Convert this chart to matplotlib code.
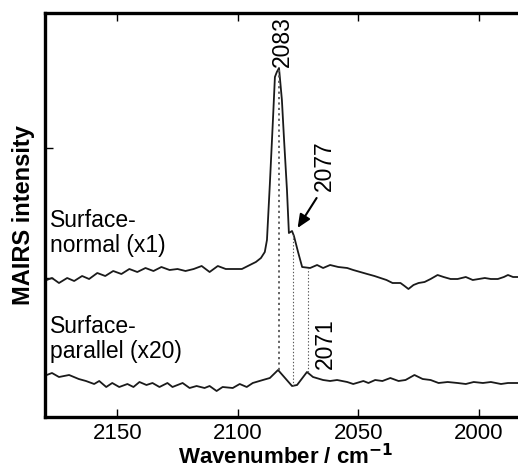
import matplotlib
matplotlib.use("Agg")
import matplotlib.pyplot as plt

plt.rcParams['font.family'] = ['Liberation Sans', 'DejaVu Sans']

# Surface-normal (x1) spectrum: wavenumber (cm-1), intensity (arb.)
normal_wn = [2180.4, 2177.1, 2174.2, 2170.8, 2167.9, 2164.6, 2161.7, 2158.3, 2155.0,
             2151.7, 2148.3, 2145.0, 2141.7, 2138.3, 2135.0, 2131.7, 2128.3, 2125.0,
             2121.7, 2118.3, 2115.0, 2111.7, 2108.3, 2105.0, 2101.7, 2098.3, 2095.0,
             2092.5, 2090.4, 2088.8, 2087.9, 2086.7, 2085.4, 2084.6, 2083.8, 2082.9,
             2081.7, 2080.8, 2079.6, 2078.8, 2077.5, 2076.7, 2075.0, 2073.3, 2070.0,
             2067.1, 2064.6, 2061.7, 2058.3, 2054.6, 2052.1, 2049.2, 2046.3, 2043.3,
             2040.8, 2038.3, 2035.8, 2032.5, 2030.8, 2029.2, 2027.1, 2025.0, 2022.5,
             2020.0, 2017.1, 2014.6, 2011.7, 2008.8, 2005.4, 2002.5, 2000.0, 1997.5,
             1995.0, 1992.1, 1989.6, 1987.9, 1985.8, 1983.3]
normal_int = [136, 139, 134, 139, 136, 141, 138, 144, 141,
              146, 143, 148, 145, 149, 146, 150, 147, 148,
              146, 148, 151, 145, 151, 148, 148, 148, 152,
              155, 159, 165, 177, 233, 298, 340, 345, 349,
              317, 277, 227, 184, 186, 181, 165, 150, 149,
              152, 149, 152, 150, 149, 147, 145, 143, 141,
              139, 137, 134, 134, 131, 128, 132, 134, 135,
              138, 142, 140, 138, 138, 140, 137, 138, 139,
              138, 138, 140, 142, 140, 140]

# Surface-parallel (x20) spectrum
parallel_wn = [2180.4, 2177.1, 2174.2, 2170.0, 2166.0, 2163.0, 2159.6, 2157.5, 2154.6,
               2152.1, 2149.2, 2145.8, 2143.3, 2140.8, 2137.9, 2135.4, 2132.5, 2129.2,
               2127.1, 2122.9, 2120.0, 2117.1, 2113.8, 2111.7, 2108.8, 2106.3, 2102.1,
               2099.2, 2096.3, 2093.8, 2089.6, 2086.7, 2083.3, 2080.4, 2077.5, 2075.4,
               2071.3, 2068.8, 2064.6, 2061.7, 2058.8, 2054.6, 2052.1, 2047.9, 2045.8,
               2043.0, 2040.0, 2036.7, 2033.3, 2030.4, 2026.7, 2023.3, 2020.0, 2016.7,
               2012.9, 2008.8, 2005.4, 2002.1, 1998.3, 1995.0, 1990.8, 1987.9, 1983.8]
parallel_int = [41, 44, 40, 42, 38, 36, 33, 36, 30,
                34, 30, 33, 30, 35, 32, 34, 30, 34,
                30, 34, 29, 31, 29, 31, 26, 30, 29,
                33, 30, 34, 37, 39, 47, 39, 31, 32,
                45, 40, 37, 36, 37, 35, 33, 36, 34,
                37, 36, 39, 36, 37, 42, 38, 37, 34,
                35, 34, 33, 35, 34, 35, 33, 34, 34]

# Marked peak positions and dotted guide extents (low, high)
peak_pos = [2083, 2077, 2071]
guide_low = [47, 31, 45]
guide_high = [349, 184, 149]
guide_lw = [1.3, 0.8, 0.8]

xticks = [2150, 2100, 2050, 2000]
yticks = [139, 269]

fig = plt.figure(figsize=(5.18, 4.71), dpi=100)
ax = fig.add_axes([45/518, 54/471, 482/518, 404/471])

line_kw = dict(color='#1a1a1a', lw=1.3)
ax.plot(normal_wn, normal_int, **line_kw)
ax.plot(parallel_wn, parallel_int, **line_kw)

for p, lo, hi, lw in zip(peak_pos, guide_low, guide_high, guide_lw):
    ax.vlines(p, lo, hi, colors='#555555', linestyles=(0, (1.2, 1.8)), lw=lw)

fs = 16.5
ax.text(2081.7, 350, '2083', rotation=90, ha='center', va='bottom', fontsize=fs)
ax.text(2064.2, 226, '2077', rotation=90, ha='center', va='bottom', fontsize=fs)
ax.text(2063.8, 48, '2071', rotation=90, ha='center', va='bottom', fontsize=fs)
ax.annotate('', xy=(2075.2, 189), xytext=(2067.3, 219),
            arrowprops=dict(arrowstyle='-|>,head_length=0.8,head_width=0.35',
                            color='black', lw=1.5, shrinkA=0, shrinkB=0))

ax.text(2178.0, 208, 'Surface-\nnormal (x1)', ha='left', va='top', fontsize=fs,
        linespacing=1.1)
ax.text(2178.0, 102, 'Surface-\nparallel (x20)', ha='left', va='top', fontsize=fs,
        linespacing=1.1)

ax.set_xlim(2180, 1980)
ax.set_ylim(0, 404)
ax.set_xticks(xticks)
ax.set_xticklabels([str(t) for t in xticks])
ax.set_yticks(yticks)
ax.set_yticklabels([])
ax.tick_params(axis='x', direction='in', length=6, width=1, top=True,
               labelsize=16, pad=4.5)
ax.tick_params(axis='y', direction='in', length=6, width=1, right=False)
for s in ax.spines.values():
    s.set_linewidth(2.4)

ax.set_xlabel('Wavenumber / cm$^{\\mathbf{-1}}$', fontsize=16, fontweight='bold',
              labelpad=0)
ax.set_ylabel('MAIRS intensity', fontsize=17, fontweight='bold', labelpad=4)

fig.savefig('out.png', dpi=100)
